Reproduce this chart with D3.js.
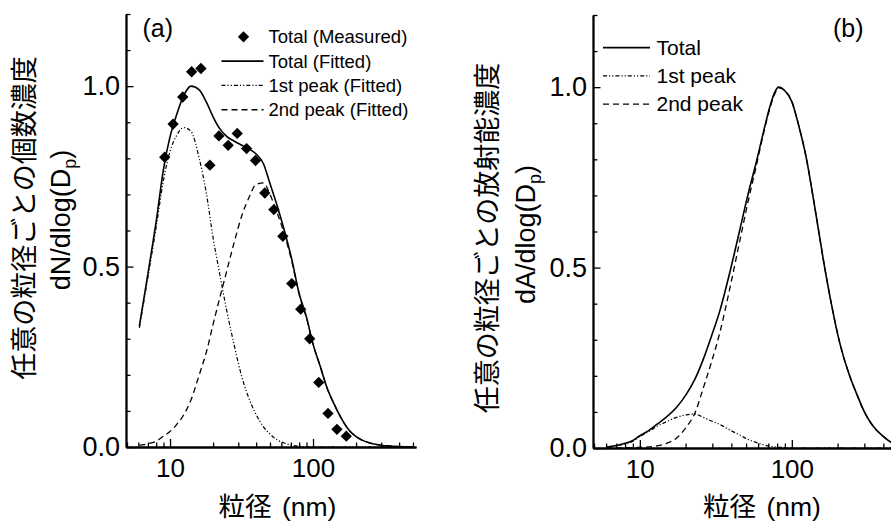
<!DOCTYPE html>
<html>
<head>
<meta charset="utf-8">
<script src="https://cdn.jsdelivr.net/npm/d3@7"></script>
<style>
  body { margin: 0; background: #fff; }
  text { font-family: "Liberation Sans", Arial, "Noto Sans CJK JP", sans-serif; fill: #000; }
</style>
</head>
<body>
<div id="chart"></div>
<script>
// ---- Panel (a): number concentration ----
const sizesA = [6.1, 7, 8, 9, 10, 11, 12.5, 14, 16, 18, 20, 22, 25, 28, 32, 36, 40, 45, 50, 56,
                63, 71, 80, 90, 100, 112, 125, 140, 160, 180, 200, 250, 300, 400, 500];
const totalFitA = [0.335, 0.48, 0.625, 0.77, 0.86, 0.915, 0.975, 1.0, 0.99, 0.955, 0.915, 0.885, 0.86, 0.848, 0.836, 0.825, 0.812, 0.785, 0.73, 0.67,
                   0.6, 0.52, 0.425, 0.36, 0.285, 0.225, 0.165, 0.12, 0.075, 0.045, 0.029, 0.011, 0.005, 0.001, 0];
const peak1A = [0.33, 0.47, 0.61, 0.74, 0.82, 0.86, 0.885, 0.875, 0.8, 0.7, 0.58, 0.49, 0.375, 0.285, 0.19, 0.13, 0.09, 0.056, 0.036, 0.02,
                0.011, 0.005, 0.002, 0.001, 0, 0, 0, 0, 0, 0, 0, 0, 0, 0, 0];
const peak2A = [0.005, 0.009, 0.016, 0.03, 0.043, 0.06, 0.09, 0.13, 0.2, 0.265, 0.34, 0.405, 0.49, 0.565, 0.645, 0.695, 0.728, 0.732, 0.7, 0.65,
                0.59, 0.515, 0.423, 0.358, 0.285, 0.225, 0.165, 0.12, 0.075, 0.045, 0.029, 0.011, 0.005, 0.001, 0];
const measuredSizesA = [9.18, 10.5, 12.27, 14.16, 16.44, 19.0, 21.97, 25.5, 29.5, 34.3, 39.6,
                        46.0, 53.2, 61.5, 71.0, 82.0, 94.8, 109.6, 127.3, 147.0, 170.9];
const measuredA = [0.803, 0.895, 0.970, 1.040, 1.049, 0.781, 0.862, 0.836, 0.869, 0.827, 0.794,
                   0.704, 0.658, 0.584, 0.453, 0.382, 0.300, 0.179, 0.093, 0.049, 0.030];

// ---- Panel (b): activity concentration ----
const sizesB = [6, 7, 8, 9, 10, 11.6, 13, 15, 17.4, 20.3, 23, 26.1, 29.6, 33.6, 39, 45.5, 52, 58.6, 65, 71.6,
                77, 82, 90, 100, 110, 125, 140, 160, 180, 207, 240, 267, 300, 343, 400, 441, 500];
const totalB = [0.002, 0.007, 0.013, 0.021, 0.034, 0.05, 0.066, 0.086, 0.112, 0.15, 0.19, 0.245, 0.31, 0.38, 0.485, 0.605, 0.71, 0.795, 0.875, 0.945,
                0.985, 1.0, 0.99, 0.96, 0.9, 0.8, 0.68, 0.53, 0.41, 0.29, 0.2, 0.15, 0.1, 0.06, 0.032, 0.018, 0.009];
const peak1B = [0.002, 0.006, 0.011, 0.019, 0.032, 0.047, 0.06, 0.073, 0.085, 0.092, 0.094, 0.085, 0.075, 0.065, 0.05, 0.036, 0.023, 0.015, 0.009, 0.005,
                0.003, 0.002, 0.001, 0, 0, 0, 0, 0, 0, 0, 0, 0, 0, 0, 0, 0, 0];
const peak2B = [0, 0, 0.0005, 0.001, 0.002, 0.003, 0.006, 0.013, 0.027, 0.059, 0.096, 0.165, 0.238, 0.32, 0.44, 0.575, 0.69, 0.785, 0.87, 0.94,
                0.98, 0.998, 0.99, 0.96, 0.9, 0.8, 0.68, 0.53, 0.41, 0.29, 0.2, 0.15, 0.1, 0.06, 0.032, 0.018, 0.009];

// axis settings shared by both panels
const xDomain = [4.92, 525];
const yDomain = [0, 1.2];
const xMajorTicks = [10, 100];
const yMajorTicks = [0, 0.5, 1.0];
const yMinorTicks = [0.1, 0.2, 0.3, 0.4, 0.6, 0.7, 0.8, 0.9, 1.1, 1.2];

const legendA = ['Total (Measured)', 'Total (Fitted)', '1st peak (Fitted)', '2nd peak (Fitted)'];
const legendB = ['Total', '1st peak', '2nd peak'];

const width = 891;
const height = 524;

const styles = {
    total: { dash: null, width: 1.6 },
    peak1: { dash: '4,2,1.2,2,1.2,2', width: 1.2 },
    peak2: { dash: '6,4', width: 1.3 }
};

const svg = d3.select('#chart')
    .append('svg')
    .attr('width', width)
    .attr('height', height);

function drawPanel(cfg)
{
    const x = d3.scaleLog().domain(xDomain).range([cfg.left, cfg.right]);
    const y = d3.scaleLinear().domain(yDomain).range([cfg.bottom, cfg.top]);
    const g = svg.append('g');

    // x axis: minor ticks then major ticks with labels (ticks point inward)
    g.append('g')
        .attr('transform', `translate(0, ${cfg.bottom})`)
        .call(d3.axisBottom(x).tickValues(x.ticks().filter(d => xMajorTicks.indexOf(d) < 0))
            .tickSize(-4.5).tickSizeOuter(0).tickFormat(''));
    const xAxis = g.append('g')
        .attr('transform', `translate(0, ${cfg.bottom})`)
        .call(d3.axisBottom(x).tickValues(xMajorTicks)
            .tickSize(-8).tickSizeOuter(0).tickPadding(11.5).tickFormat(d3.format('d')));
    xAxis.selectAll('text').attr('font-size', 26).attr('font-family', null);

    // y axis
    g.append('g')
        .attr('transform', `translate(${cfg.left}, 0)`)
        .call(d3.axisLeft(y).tickValues(yMinorTicks).tickSize(-4.5).tickSizeOuter(0).tickFormat(''));
    const yAxis = g.append('g')
        .attr('transform', `translate(${cfg.left}, 0)`)
        .call(d3.axisLeft(y).tickValues(yMajorTicks).tickSize(-7.5).tickSizeOuter(0)
            .tickPadding(6).tickFormat(d3.format('.1f')));
    yAxis.selectAll('text').attr('font-size', 27).attr('font-family', null);

    g.selectAll('.domain').attr('stroke-width', 1.8);
    g.selectAll('.tick line').attr('stroke-width', 1.3);

    // curves
    const line = d3.line()
        .x(d => x(d[0]))
        .y(d => y(d[1]))
        .curve(d3.curveMonotoneX);

    cfg.curves.forEach(c => {
        g.append('path')
            .datum(cfg.sizes.map((s, i) => [s, c.values[i]]))
            .attr('fill', 'none')
            .attr('stroke', '#000')
            .attr('stroke-width', c.style.width)
            .attr('stroke-dasharray', c.style.dash)
            .attr('d', line);
    });

    // measured points as diamonds
    if (cfg.points) {
        g.selectAll('.pt')
            .data(cfg.points.sizes.map((s, i) => [s, cfg.points.values[i]]))
            .enter()
            .append('path')
            .attr('class', 'pt')
            .attr('d', d3.symbol(d3.symbolSquare, 64))
            .attr('transform', d => `translate(${x(d[0])}, ${y(d[1])}) rotate(45)`)
            .attr('fill', '#000');
    }

    // panel label
    g.append('text')
        .attr('x', cfg.tag.x)
        .attr('y', cfg.tag.y)
        .attr('font-size', 25)
        .text(cfg.tag.text);

    // x title
    const xt = g.append('text')
        .attr('x', cfg.xTitleX)
        .attr('y', 516)
        .attr('text-anchor', 'middle')
        .attr('font-size', 26.5);
    xt.append('tspan').text('粒径');
    xt.append('tspan').attr('dx', 3).text(' (nm)');

    // y title, two lines
    g.append('text')
        .attr('transform', `translate(${cfg.yTitle.jx}, ${cfg.yTitle.jy}) rotate(-90)`)
        .attr('text-anchor', 'middle')
        .attr('font-size', 27)
        .text(cfg.yTitle.jp);

    const t = g.append('text')
        .attr('transform', `translate(${cfg.yTitle.dx}, ${cfg.yTitle.dy}) rotate(-90)`)
        .attr('text-anchor', 'middle')
        .attr('font-size', 27);
    t.append('tspan').text(cfg.yTitle.quantity + '/dlog(D');
    t.append('tspan').attr('font-size', 18).attr('dy', 6).text('p');
    t.append('tspan').attr('dy', -6).text(')');

    // legend
    const lg = cfg.legend;
    lg.labels.forEach((label, i) => {
        const by = lg.y0 + i * lg.step;
        const st = lg.styles[i];
        if (st === 'marker') {
            g.append('path')
                .attr('d', d3.symbol(d3.symbolSquare, 64))
                .attr('transform', `translate(${(lg.x1 + lg.x2) / 2 + 1}, ${by - lg.fontSize * 0.35}) rotate(45)`)
                .attr('fill', '#000');
        } else {
            g.append('line')
                .attr('x1', lg.x1).attr('x2', lg.x2)
                .attr('y1', by - lg.fontSize * 0.35).attr('y2', by - lg.fontSize * 0.35)
                .attr('stroke', '#000')
                .attr('stroke-width', st.width)
                .attr('stroke-dasharray', st.dash);
        }
        g.append('text')
            .attr('x', lg.tx)
            .attr('y', by)
            .attr('font-size', lg.fontSize)
            .text(label);
    });
}

drawPanel({
    left: 126, right: 416, top: 14, bottom: 447,
    sizes: sizesA,
    curves: [
        { values: totalFitA, style: styles.total },
        { values: peak1A, style: styles.peak1 },
        { values: peak2A, style: styles.peak2 }
    ],
    points: { sizes: measuredSizesA, values: measuredA },
    tag: { text: '(a)', x: 142.5, y: 37 },
    xTitleX: 277.5,
    yTitle: { jp: '任意の粒径ごとの個数濃度', jx: 34, jy: 218, quantity: 'dN', dx: 70, dy: 220 },
    legend: {
        labels: legendA, x1: 221.5, x2: 263.5, tx: 268.5, y0: 43.3, step: 24.3, fontSize: 18.5,
        styles: ['marker', styles.total, styles.peak1, styles.peak2]
    }
});

drawPanel({
    left: 593, right: 901.3, top: 15, bottom: 448,
    sizes: sizesB,
    curves: [
        { values: totalB, style: styles.total },
        { values: peak1B, style: styles.peak1 },
        { values: peak2B, style: styles.peak2 }
    ],
    points: null,
    tag: { text: '(b)', x: 833, y: 37 },
    xTitleX: 762,
    yTitle: { jp: '任意の粒径ごとの放射能濃度', jx: 497, jy: 238, quantity: 'dA', dx: 535, dy: 234.5 },
    legend: {
        labels: legendB, x1: 603, x2: 650, tx: 656.5, y0: 55, step: 28.2, fontSize: 21,
        styles: [styles.total, styles.peak1, styles.peak2]
    }
});
</script>
</body>
</html>
